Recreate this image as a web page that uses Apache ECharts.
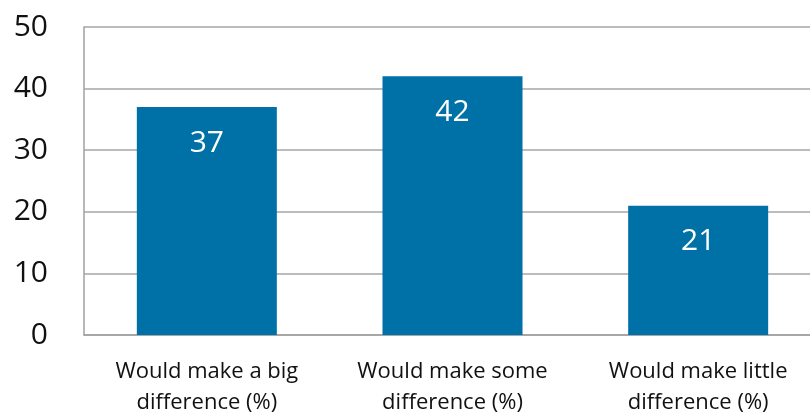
<!DOCTYPE html>
<html><head><meta charset="utf-8">
<script src="https://cdn.jsdelivr.net/npm/echarts@6/dist/echarts.min.js"></script>
<style>html,body{margin:0;padding:0;background:#fff;overflow:hidden;width:810px;height:415px}#c{width:821px;height:415px}</style>
</head><body><div id="c"></div>
<script>
const categories = ["Would make a big\ndifference (%)", "Would make some\ndifference (%)", "Would make little\ndifference (%)"];
const values = [37, 42, 21];
const yTicks = {min: 0, max: 50, interval: 10};

const chart = echarts.init(document.getElementById('c'), null, {renderer: 'canvas'});
chart.setOption({
  animation: false,
  grid: {left: 84, right: 0, top: 27, height: 308, containLabel: false, outerBoundsMode: 'none'},
  xAxis: {
    type: 'category', data: categories,
    axisLine: {show: true, lineStyle: {color: '#a0a0a0', width: 1.5}},
    axisTick: {show: false},
    axisLabel: {interval: 0, fontFamily: 'Open Sans', fontSize: 22, color: '#111', lineHeight: 31, margin: 21}
  },
  yAxis: {
    type: 'value', min: yTicks.min, max: yTicks.max, interval: yTicks.interval,
    axisLine: {show: true, lineStyle: {color: '#a0a0a0', width: 1.5}},
    axisTick: {show: false},
    splitLine: {lineStyle: {color: '#a6a6a6', width: 1.5}},
    axisLabel: {fontFamily: 'Open Sans', fontSize: 30, color: '#111', margin: 36}
  },
  series: [{
    type: 'bar', data: values, barWidth: 140,
    itemStyle: {color: '#0071a7'},
    label: {show: true, position: 'insideTop', distance: 21, color: '#fff', fontFamily: 'Open Sans', fontSize: 30}
  }]
});
</script></body></html>
